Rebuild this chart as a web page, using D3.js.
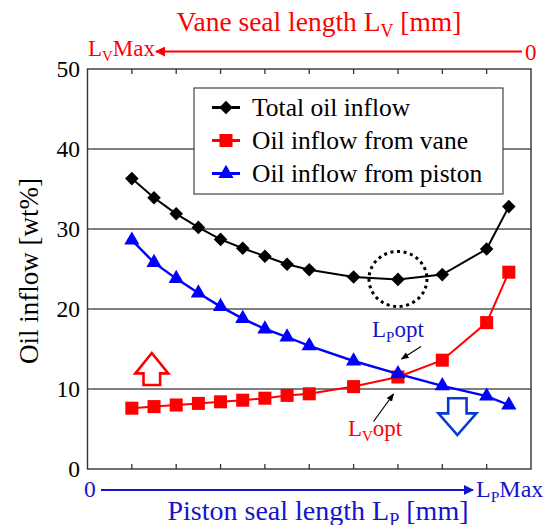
<!DOCTYPE html>
<html lang="en">
<head>
<meta charset="utf-8">
<title>Oil inflow</title>
<script src="https://d3js.org/d3.v7.min.js"></script>
<style>
  body { margin: 0; background: #fff; }
  text { font-family: "Liberation Serif", "Times New Roman", serif; }
</style>
</head>
<body>
<div id="chart"></div>
<script>
// seal length position (tick units along piston axis)
var xPos = [1, 1.5, 2, 2.5, 3, 3.5, 4, 4.5, 5, 6, 7, 8, 9, 9.5];
var totalInflow = [36.3, 33.9, 31.9, 30.2, 28.7, 27.6, 26.6, 25.6, 24.9, 24.0, 23.7, 24.3, 27.5, 32.8];
var vaneInflow = [7.6, 7.8, 8.0, 8.2, 8.4, 8.6, 8.85, 9.2, 9.4, 10.3, 11.5, 13.6, 18.3, 24.6];
var pistonInflow = [28.6, 25.8, 23.8, 22.0, 20.3, 18.8, 17.5, 16.5, 15.4, 13.5, 11.9, 10.4, 9.1, 8.0];
var yTicks = [0, 10, 20, 30, 40, 50];
var xTicks = [1, 2, 3, 4, 5, 6, 7, 8, 9];
var seriesNames = ["Total oil inflow", "Oil inflow from vane", "Oil inflow from piston"];

var w = 549, h = 525;
// plot frame (note: "top" is reserved on window, so prefixed names)
var pLeft = 87.5, pRight = 531, pTop = 69, pBottom = 469;
var RED = "#ff0000", BLUE = "#0000ff", TXTBLUE = "#1414cc";

var x = d3.scaleLinear().domain([0, 10]).range([pLeft, pRight]);
var y = d3.scaleLinear().domain([0, 50]).range([pBottom, pTop]);

var svg = d3.select("#chart").append("svg")
  .attr("width", w).attr("height", h);

var defs = svg.append("defs");
function head(id, color) {
  defs.append("marker").attr("id", id)
    .attr("viewBox", "0 0 10 10").attr("refX", 9).attr("refY", 5)
    .attr("markerWidth", 10).attr("markerHeight", 10)
    .attr("markerUnits", "userSpaceOnUse")
    .attr("orient", "auto")
    .append("path").attr("d", "M0,0 L10,5 L0,10 Z").attr("fill", color);
}
head("hr", RED); head("hb", TXTBLUE);
defs.append("marker").attr("id", "hs")
  .attr("viewBox", "0 0 10 10").attr("refX", 9).attr("refY", 5)
  .attr("markerWidth", 8).attr("markerHeight", 8)
  .attr("markerUnits", "userSpaceOnUse").attr("orient", "auto")
  .append("path").attr("d", "M0,1 L10,5 L0,9 Z").attr("fill", "#000");

// gridlines
svg.append("g").selectAll("line")
  .data(yTicks.filter(function(d) { return d > 0 && d < 50; }))
  .enter().append("line")
  .attr("x1", pLeft).attr("x2", pRight)
  .attr("y1", function(d) { return y(d); }).attr("y2", function(d) { return y(d); })
  .attr("stroke", "#000").attr("stroke-width", 1);

// x ticks, top and bottom (inward)
var tk = svg.append("g").attr("stroke", "#333").attr("stroke-width", 1.3);
tk.selectAll("line.b").data(xTicks).enter().append("line").attr("class", "b")
  .attr("x1", function(d) { return x(d); }).attr("x2", function(d) { return x(d); })
  .attr("y1", pBottom).attr("y2", pBottom - 5);
tk.selectAll("line.t").data(xTicks).enter().append("line").attr("class", "t")
  .attr("x1", function(d) { return x(d); }).attr("x2", function(d) { return x(d); })
  .attr("y1", pTop).attr("y2", pTop + 5);

// y labels
svg.append("g").selectAll("text").data(yTicks).enter().append("text")
  .attr("x", 80).attr("y", function(d) { return y(d); })
  .attr("dy", "0.35em").attr("text-anchor", "end")
  .attr("font-size", 23.5).attr("fill", "#000")
  .text(function(d) { return d; });

svg.append("text")
  .attr("transform", "translate(38," + ((pTop + pBottom) / 2 + 2) + ") rotate(-90)")
  .attr("text-anchor", "middle").attr("font-size", 27)
  .text("Oil inflow [wt%]");

// hollow arrows
function upArrow(cx, tipY, neckY, baseY, hw, sw) {
  return "M" + cx + "," + tipY + " L" + (cx + hw) + "," + neckY + " L" + (cx + sw) + "," + neckY +
    " L" + (cx + sw) + "," + baseY + " L" + (cx - sw) + "," + baseY + " L" + (cx - sw) + "," + neckY +
    " L" + (cx - hw) + "," + neckY + " Z";
}
svg.append("path")
  .attr("d", upArrow(x(1.45), y(14.5), y(11.95), y(10.5), 16.5, 8.3))
  .attr("fill", "#fff").attr("stroke", RED).attr("stroke-width", 2.6);
svg.append("path")
  .attr("d", upArrow(x(8.34), y(4.25), y(6.95), y(8.85), 19, 9.2))
  .attr("fill", "#fff").attr("stroke", "#0a3acc").attr("stroke-width", 2.6);

// dotted circle around optimum
svg.append("ellipse")
  .attr("cx", x(7)).attr("cy", y(23.75)).attr("rx", 29).attr("ry", 27.5)
  .attr("fill", "none").attr("stroke", "#000").attr("stroke-width", 3)
  .attr("stroke-dasharray", "3,3.6");

// series
var line = d3.line().x(function(d) { return x(d[0]); }).y(function(d) { return y(d[1]); });
function pts(vals) { return xPos.map(function(v, i) { return [v, vals[i]]; }); }

var diamond = d3.symbol().type(d3.symbolSquare).size(92);
var square = d3.symbol().type(d3.symbolSquare).size(170);
var tri = d3.symbol().type(d3.symbolTriangle).size(100);

var series = [
  { vals: totalInflow, color: "#000", sym: diamond, rot: 45, lw: 2 },
  { vals: vaneInflow, color: RED, sym: square, rot: 0, lw: 2 },
  { vals: pistonInflow, color: BLUE, sym: tri, rot: 0, lw: 2.4 }
];

series.forEach(function(s) {
  var p = pts(s.vals);
  svg.append("path").datum(p).attr("d", line)
    .attr("fill", "none").attr("stroke", s.color).attr("stroke-width", s.lw);
  svg.append("g").selectAll("path").data(p).enter().append("path")
    .attr("d", s.sym)
    .attr("transform", function(d) {
      return "translate(" + x(d[0]) + "," + y(d[1]) + ") rotate(" + s.rot + ")";
    })
    .attr("fill", s.color);
});

// frame
svg.append("rect")
  .attr("x", pLeft).attr("y", pTop).attr("width", pRight - pLeft).attr("height", pBottom - pTop)
  .attr("fill", "none").attr("stroke", "#333").attr("stroke-width", 1.4);

// legend
var lg = svg.append("g");
lg.append("rect").attr("x", 194).attr("y", 88).attr("width", 309).attr("height", 106)
  .attr("fill", "#fff").attr("stroke", "#444").attr("stroke-width", 1.2);
series.forEach(function(s, i) {
  var cy = 107.5 + i * 33;
  lg.append("line").attr("x1", 212).attr("x2", 240).attr("y1", cy).attr("y2", cy)
    .attr("stroke", s.color).attr("stroke-width", 3);
  lg.append("path").attr("d", s.sym)
    .attr("transform", "translate(226," + cy + ") rotate(" + s.rot + ")")
    .attr("fill", s.color);
  lg.append("text").attr("x", 252).attr("y", cy + 8.5)
    .attr("font-size", 25.5).text(seriesNames[i]);
});

// text helper with subscript
function subText(g, px, py, size, color, anchor, parts) {
  var t = g.append("text").attr("x", px).attr("y", py).attr("font-size", size)
    .attr("fill", color).attr("text-anchor", anchor);
  parts.forEach(function(p) {
    if (p.sub) {
      t.append("tspan").attr("font-size", size * 0.65).attr("dy", size * 0.22).text(p.t);
    } else {
      t.append("tspan").attr("dy", p.up ? -size * 0.22 : 0).text(p.t);
    }
  });
  return t;
}

// top axis (vane)
subText(svg, 319, 31, 27.5, RED, "middle",
  [{ t: "Vane seal length L" }, { t: "V", sub: true }, { t: " [mm]", up: true }]);
subText(svg, 88, 56, 23, RED, "start",
  [{ t: "L" }, { t: "V", sub: true }, { t: "Max", up: true }]);
svg.append("text").attr("x", 525).attr("y", 60).attr("font-size", 23).attr("fill", RED).text("0");
svg.append("line").attr("x1", 522).attr("x2", 156).attr("y1", 51.5).attr("y2", 51.5)
  .attr("stroke", RED).attr("stroke-width", 2).attr("marker-end", "url(#hr)");

// bottom axis (piston)
svg.append("text").attr("x", 84).attr("y", 497).attr("font-size", 23.5).attr("fill", TXTBLUE).text("0");
svg.append("line").attr("x1", 101).attr("x2", 473).attr("y1", 490).attr("y2", 490)
  .attr("stroke", TXTBLUE).attr("stroke-width", 2).attr("marker-end", "url(#hb)");
subText(svg, 476, 497, 24, TXTBLUE, "start",
  [{ t: "L" }, { t: "P", sub: true }, { t: "Max", up: true }]);
subText(svg, 318, 520, 28, TXTBLUE, "middle",
  [{ t: "Piston seal length L" }, { t: "P", sub: true }, { t: " [mm]", up: true }]);

// optimum labels
subText(svg, 372, 337, 23, TXTBLUE, "start",
  [{ t: "L" }, { t: "P", sub: true }, { t: "opt", up: true }]);
svg.append("line").attr("x1", 421).attr("y1", 346.5).attr("x2", 401.5).attr("y2", 359)
  .attr("stroke", "#000").attr("stroke-width", 1.2).attr("marker-end", "url(#hs)");
subText(svg, 348, 436, 23, RED, "start",
  [{ t: "L" }, { t: "V", sub: true }, { t: "opt", up: true }]);
svg.append("line").attr("x1", 373.5).attr("y1", 421.5).attr("x2", 393.5).attr("y2", 394)
  .attr("stroke", "#000").attr("stroke-width", 1.2).attr("marker-end", "url(#hs)");
</script>
</body>
</html>
